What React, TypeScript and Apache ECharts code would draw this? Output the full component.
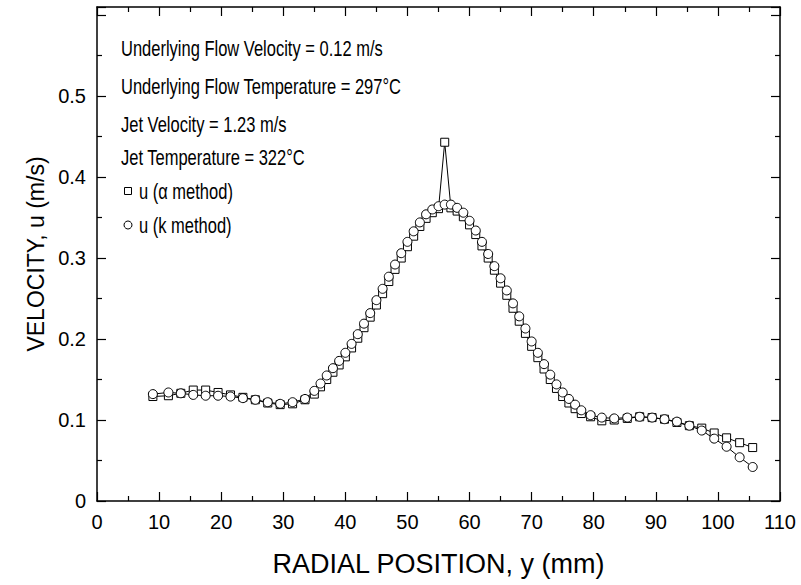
import React, { useEffect, useRef } from "react";
import * as echarts from "echarts";

const positions = [
  9, 11.5, 13.5, 15.5, 17.5, 19.5, 21.5, 23.5, 25.5, 27.5, 29.5, 31.5, 33.5,
  35, 36, 37, 38, 39, 40, 41, 42, 43, 44, 45, 46, 47, 48, 49, 50, 51, 52, 53, 54,
  55, 56, 57, 58, 59, 60, 61, 62, 63, 64, 65, 66, 67, 68, 69, 70, 71, 72, 73, 74,
  75, 76, 77, 78,
  79.5, 81.3, 83.3, 85.4, 87.4, 89.4, 91.4, 93.4, 95.4, 97.4, 99.4, 101.4, 103.5, 105.6,
];

const uAlpha = [
  0.129, 0.130, 0.133, 0.137, 0.137, 0.134, 0.131, 0.128, 0.125, 0.121, 0.119, 0.120, 0.125,
  0.132, 0.141, 0.150, 0.159, 0.168, 0.178, 0.189, 0.201, 0.214, 0.227, 0.242, 0.256, 0.271,
  0.286, 0.300, 0.314, 0.327, 0.339, 0.349, 0.356, 0.361, 0.443, 0.362, 0.358, 0.351, 0.341,
  0.329, 0.315, 0.300, 0.285, 0.269, 0.254, 0.238, 0.222, 0.207, 0.191, 0.177, 0.163, 0.150,
  0.139, 0.129, 0.121, 0.114, 0.108,
  0.104, 0.099, 0.100, 0.102, 0.104, 0.103, 0.101, 0.097, 0.093, 0.090, 0.084, 0.078, 0.072, 0.066,
];

const uK = [
  0.132, 0.134, 0.133, 0.131, 0.130, 0.130, 0.129, 0.127, 0.125, 0.122, 0.120, 0.122, 0.126,
  0.136, 0.145, 0.155, 0.164, 0.173, 0.183, 0.194, 0.206, 0.219, 0.232, 0.248, 0.262, 0.277,
  0.292, 0.306, 0.320, 0.333, 0.344, 0.354, 0.360, 0.364, 0.366, 0.366, 0.362, 0.356, 0.346,
  0.334, 0.320, 0.305, 0.290, 0.275, 0.260, 0.244, 0.228, 0.213, 0.197, 0.183, 0.169, 0.156,
  0.144, 0.134, 0.126, 0.119, 0.112,
  0.106, 0.103, 0.102, 0.103, 0.104, 0.103, 0.101, 0.098, 0.093, 0.087, 0.077, 0.067, 0.054, 0.042,
];

const annotations = [
  "Underlying Flow Velocity = 0.12 m/s",
  "Underlying Flow Temperature = 297\u00b0C",
  "Jet Velocity = 1.23 m/s",
  "Jet Temperature = 322\u00b0C",
];

const seriesNames = ["u (\u03b1 method)", "u (k method)"];

const FONT = "'Liberation Sans', Arial, Helvetica, sans-serif";

export default function App() {
  const ref = useRef<HTMLDivElement>(null);
  useEffect(() => {
    if (!ref.current) return;
    const chart = echarts.init(ref.current, undefined, { renderer: "svg" });
    const axisCommon = {
      type: "value" as const,
      axisLine: { show: true, onZero: false, lineStyle: { color: "#000", width: 1.5 } },
      axisTick: { show: true, inside: true, length: 9, lineStyle: { color: "#000", width: 1.2 } },
      minorTick: { show: true, splitNumber: 2, length: 5, lineStyle: { color: "#000", width: 1.2 } },
      splitLine: { show: false },
    };
    const yFmt = (v: number) => (v > 0.55 ? "" : v === 0 ? "0" : v.toFixed(1));
    const rowY = [48, 86, 124, 157, 191, 225];
    const textStyle = (t: string) => ({
      text: t,
      fontSize: 22,
      fill: "#000",
      fontFamily: FONT,
      align: "left",
      verticalAlign: "middle",
    });
    const graphics: any[] = annotations.map((t, i) => ({
      type: "text",
      x: 121,
      y: rowY[i],
      scaleX: 0.75,
      style: textStyle(t),
    }));
    graphics.push(
      {
        type: "rect",
        shape: { x: 124.5, y: rowY[4] - 3.5, width: 7, height: 7 },
        style: { fill: "#fff", stroke: "#000", lineWidth: 1 },
      },
      { type: "text", x: 139, y: rowY[4], scaleX: 0.75, style: textStyle(seriesNames[0]) },
      {
        type: "circle",
        shape: { cx: 128, cy: rowY[5], r: 4 },
        style: { fill: "#fff", stroke: "#000", lineWidth: 1 },
      },
      { type: "text", x: 139, y: rowY[5], scaleX: 0.75, style: textStyle(seriesNames[1]) }
    );
    chart.setOption({
      animation: false,
      backgroundColor: "#fff",
      textStyle: { fontFamily: FONT },
      grid: { left: 97, right: 21, top: 7, bottom: 84, outerBoundsMode: "none" },
      xAxis: [
        {
          ...axisCommon,
          position: "bottom",
          min: 0,
          max: 110,
          interval: 10,
          name: "RADIAL POSITION, y (mm)",
          nameLocation: "middle",
          nameGap: 49,
          nameTextStyle: { fontSize: 27, color: "#000", fontFamily: FONT },
          axisLabel: { fontSize: 20, color: "#000", margin: 11, fontFamily: FONT },
        },
        {
          ...axisCommon,
          position: "top",
          min: 0,
          max: 110,
          interval: 10,
          axisLabel: { show: false },
        },
      ],
      yAxis: [
        {
          ...axisCommon,
          position: "left",
          min: 0,
          max: 0.61,
          interval: 0.1,
          name: "VELOCITY, u (m/s)",
          nameLocation: "middle",
          nameGap: 49,
          nameTextStyle: { fontSize: 23, color: "#000", fontFamily: FONT },
          axisLabel: { fontSize: 20, color: "#000", margin: 11, formatter: yFmt, fontFamily: FONT },
        },
        {
          ...axisCommon,
          position: "right",
          min: 0,
          max: 0.61,
          interval: 0.1,
          axisLabel: { show: false },
        },
      ],
      graphic: graphics,
      series: [
        {
          name: seriesNames[0],
          type: "line",
          data: positions.map((x, i) => [x, uAlpha[i]]),
          symbol: "rect",
          symbolSize: 8,
          itemStyle: { color: "#fff", borderColor: "#000", borderWidth: 1 },
          lineStyle: { color: "#000", width: 1 },
        },
        {
          name: seriesNames[1],
          type: "line",
          data: positions.map((x, i) => [x, uK[i]]),
          symbol: "circle",
          symbolSize: 9,
          itemStyle: { color: "#fff", borderColor: "#000", borderWidth: 1 },
          lineStyle: { color: "#000", width: 1 },
        },
      ],
    });
    return () => chart.dispose();
  }, []);
  return (
    <div
      ref={ref}
      style={{ width: 801, height: 585, position: "absolute", left: 0, top: 0 }}
    />
  );
}
